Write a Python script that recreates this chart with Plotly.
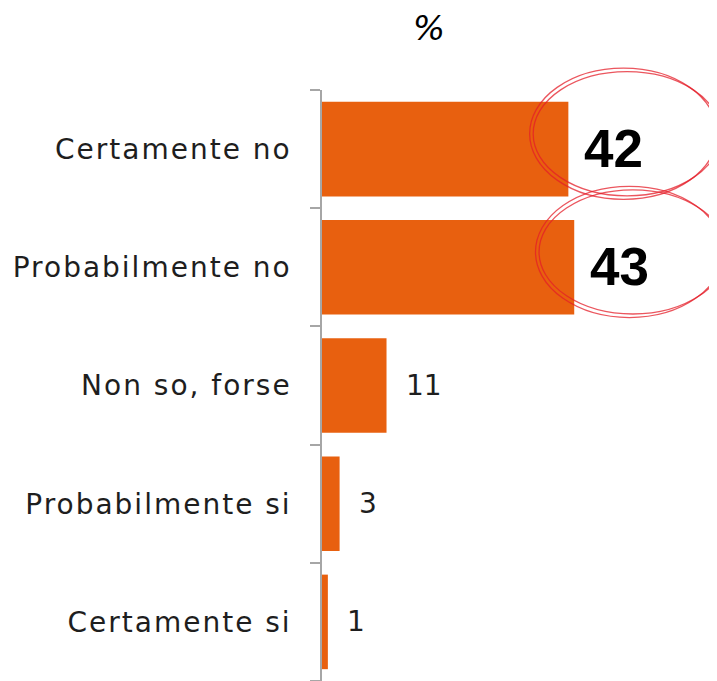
import plotly.graph_objects as go

categories = ["Certamente no", "Probabilmente no", "Non so, forse", "Probabilmente si", "Certamente si"]
values = [42, 43, 11, 3, 1]
highlighted = ["Certamente no", "Probabilmente no"]
title_text = "%"

BAR_COLOR = "#E8600F"
AXIS_GRAY = "#A6A6A6"
TEXT_COLOR = "#1E1E1E"
RED = "rgba(228,30,40,0.75)"

# the page body keeps its default 8px margin, so the figure is sized to fit the window
W, H = 709, 673

fig = go.Figure()
fig.add_trace(go.Bar(
    x=values, y=categories, orientation="h",
    marker=dict(color=BAR_COLOR, line=dict(width=0)),
    width=0.8, hoverinfo="skip",
))

annotations = []
shapes = []
n = len(categories)
for i, (cat, val) in enumerate(zip(categories, values)):
    if cat in highlighted:
        annotations.append(dict(
            x=val, y=cat, xref="x", yref="y", text=str(val), showarrow=False,
            xanchor="left", yanchor="middle", xshift=14, yshift=1,
            font=dict(family="Liberation Sans, Arial, sans-serif", size=53, color="#000000", weight="bold"),
        ))
        yc = 1 - (i + 0.5) / n + 0.025
        for dx0, dx1, dy0, dy1 in [(-6.6, 25.4, -0.110, 0.112), (-6.0, 26.0, -0.104, 0.106)]:
            shapes.append(dict(
                type="circle", xref="x", yref="paper",
                x0=val + dx0, x1=val + dx1, y0=yc + dy0, y1=yc + dy1,
                line=dict(color=RED, width=1.3), layer="above",
            ))
    else:
        annotations.append(dict(
            x=val, y=cat, xref="x", yref="y",
            text=str(val), showarrow=False,
            xanchor="left", yanchor="middle", xshift=17,
            font=dict(family="DejaVu Sans, sans-serif", size=28, color=TEXT_COLOR),
        ))

ticktext = [f'<span style="letter-spacing:2px">{c}</span>' for c in categories]

fig.update_layout(
    width=W, height=H,
    margin=dict(l=314, r=0, t=82, b=0, pad=0),
    paper_bgcolor="white", plot_bgcolor="white",
    showlegend=False,
    bargap=0.2,
    title=dict(text=f"<i>{title_text}</i>", x=421 / W, xref="container", xanchor="center",
               y=1 - 20 / H, yref="container", yanchor="middle",
               font=dict(family="DejaVu Sans, sans-serif", size=34, color="#000000", style="italic")),
    xaxis=dict(range=[0, 67.34], visible=False, fixedrange=True, automargin=False),
    yaxis=dict(
        type="category", autorange="reversed", automargin=False,
        categoryorder="array", categoryarray=categories,
        tickmode="array", tickvals=categories, ticktext=ticktext,
        tickson="boundaries", ticks="outside", ticklen=10, tickwidth=1.5, tickcolor=AXIS_GRAY,
        showline=True, linecolor=AXIS_GRAY, linewidth=1.5,
        showgrid=False, zeroline=False,
        ticklabelstandoff=23,
        tickfont=dict(family="DejaVu Sans, sans-serif", size=28, color=TEXT_COLOR),
        fixedrange=True,
    ),
    annotations=annotations,
    shapes=shapes,
)

fig.write_html("out.html")
